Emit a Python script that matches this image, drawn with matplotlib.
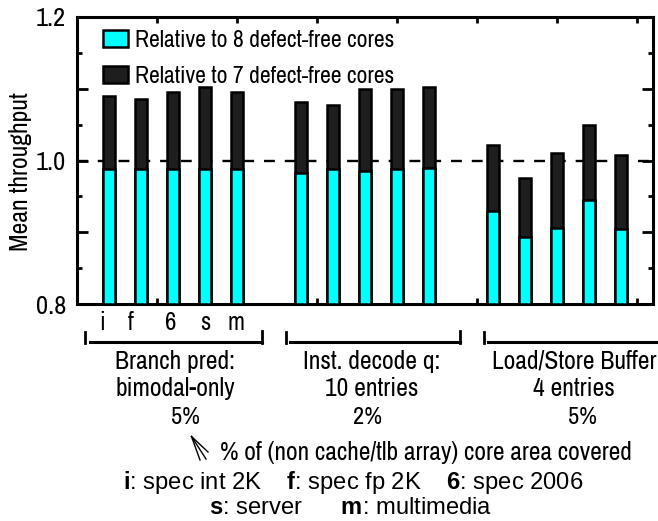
import matplotlib
matplotlib.use("Agg")
import matplotlib.pyplot as plt
from matplotlib.lines import Line2D
import matplotlib.transforms as mtrans

plt.rcParams["mathtext.fontset"] = "custom"
plt.rcParams["mathtext.rm"] = "Liberation Sans"
plt.rcParams["mathtext.bf"] = "Liberation Sans:bold"

# ---- data ----
benchmarks = ["i", "f", "6", "s", "m"]
group_labels = ["Branch pred:\nbimodal-only", "Inst. decode q:\n10 entries", "Load/Store Buffer\n4 entries"]
area_pct = ["5%", "2%", "5%"]
rel8 = [0.988, 0.988, 0.988, 0.988, 0.988,
        0.982, 0.988, 0.986, 0.988, 0.990,
        0.930, 0.893, 0.906, 0.945, 0.905]
rel7 = [1.090, 1.086, 1.095, 1.102, 1.096,
        1.081, 1.078, 1.099, 1.099, 1.102,
        1.022, 0.975, 1.011, 1.050, 1.008]
legend_labels = ["Relative to 8 defect-free cores", "Relative to 7 defect-free cores"]

W, H = 658, 521
fig = plt.figure(figsize=(W / 100, H / 100), dpi=100)
ax = fig.add_axes([77 / W, 1 - 304 / H, (653 - 77) / W, (304 - 17) / H])

NARROW = ["Archivo Narrow", "DejaVu Sans"]
REG = ["Liberation Sans", "DejaVu Sans"]

xs = []
for g in range(3):
    for i in range(5):
        xs.append(g * 6 + i)

ax.axhline(1.0, color="black", lw=1.7, ls=(0, (4.6, 4.2)), zorder=1)
b7 = ax.bar(xs, [v - 0.8 for v in rel7], bottom=0.8, width=0.36, color="#1e1e1e",
            edgecolor="black", lw=1.8, zorder=2)
b8 = ax.bar(xs, [v - 0.8 for v in rel8], bottom=0.8, width=0.36, color="#00ffff",
            edgecolor="black", lw=1.8, zorder=3)

ax.set_xlim(-1, 17)
ax.set_ylim(0.8, 1.2)
ax.set_yticks([0.8, 0.9, 1.0, 1.1, 1.2])
ax.set_yticklabels(["0.8", "", "1.0", "", "1.2"], fontfamily=NARROW, fontsize=19)
ax.set_yticks([0.85, 0.95, 1.05, 1.15], minor=True)
ax.tick_params(axis="y", which="major", direction="in", length=8, width=2, left=True, right=True, pad=8)
ax.tick_params(axis="y", which="minor", direction="in", length=3.5, width=2, left=True, right=True)
ax.set_xticks([1.5, 4, 6.5, 9, 11.5, 14, 16.5])
ax.set_xticklabels([])
ax.tick_params(axis="x", which="major", direction="in", length=4, width=2, top=True, bottom=True)
for s in ax.spines.values():
    s.set_linewidth(2.2)
ax.set_ylabel("Mean throughput", fontfamily=NARROW, fontsize=18.5)
ax.yaxis.set_label_coords((32 - 77) / 576, 1 - (172 - 17) / 287)


def px(x, y):
    return x / W, 1 - y / H


# legend
ax.legend([b8, b7], legend_labels, loc="upper left", bbox_to_anchor=(26 / 576, 1 - 13 / 287),
          frameon=False, prop={"family": NARROW, "size": 17}, handlelength=1.05,
          handleheight=0.72, handletextpad=0.32, labelspacing=0.62, borderaxespad=0,
          borderpad=0)

# benchmark letters under the first group (small pixel nudges for layout)
blend = mtrans.blended_transform_factory(ax.transData, fig.transFigure)
nudges_px = [-7, -10, -2, 0, -1]
for i, b in enumerate(benchmarks):
    off = mtrans.ScaledTranslation(nudges_px[i] / 100, 0, fig.dpi_scale_trans)
    fig.text(xs[i], 1 - 323 / H, b, fontfamily=NARROW, fontsize=18, ha="center", va="center",
             transform=blend + off)

# brackets
brackets = [(85, 90, 262), (286, 290, 460), (484, 488, 670)]
for lt, h0, h1 in brackets:
    fig.add_artist(Line2D([lt / W, lt / W], [1 - 332 / H, 1 - 343 / H], color="black", lw=2))
    fig.add_artist(Line2D([h0 / W, h1 / W], [1 - 342 / H, 1 - 342 / H], color="black", lw=2.2))
    if h1 < W:
        fig.add_artist(Line2D([h1 / W, h1 / W], [1 - 331 / H, 1 - 343 / H], color="black", lw=2))

centers = [175, 372, 574]
pct_x = [185, 367, 582]
for c, lab, p, pxx in zip(centers, group_labels, area_pct, pct_x):
    fig.text(*px(c, 375), lab, fontfamily=NARROW, fontsize=18.4, ha="center", va="center",
             linespacing=1.22)
    fig.text(*px(pxx, 418), p, fontfamily=NARROW, fontsize=17.5, ha="center", va="center")

fig.text(*px(220, 453), "% of (non cache/tlb array) core area covered", fontfamily=NARROW,
         fontsize=18.3, ha="left", va="center")
# fanned arrow pointing at the percentages
tip = (191.5, 436.5)
for ex, ey in [(208, 452), (206, 459), (200, 460)]:
    fig.add_artist(Line2D([tip[0] / W, ex / W], [1 - tip[1] / H, 1 - ey / H], color="black", lw=1.0))

fig.text(*px(353, 483), r"$\mathbf{i}$: spec int 2K    $\mathbf{f}$: spec fp 2K    $\mathbf{6}$: spec 2006",
         fontfamily=REG, fontsize=17.1, ha="center", va="center")
fig.text(*px(351, 508), r"$\mathbf{s}$: server      $\mathbf{m}$: multimedia",
         fontfamily=REG, fontsize=17.1, ha="center", va="center")

fig.savefig("out.png", dpi=100)
